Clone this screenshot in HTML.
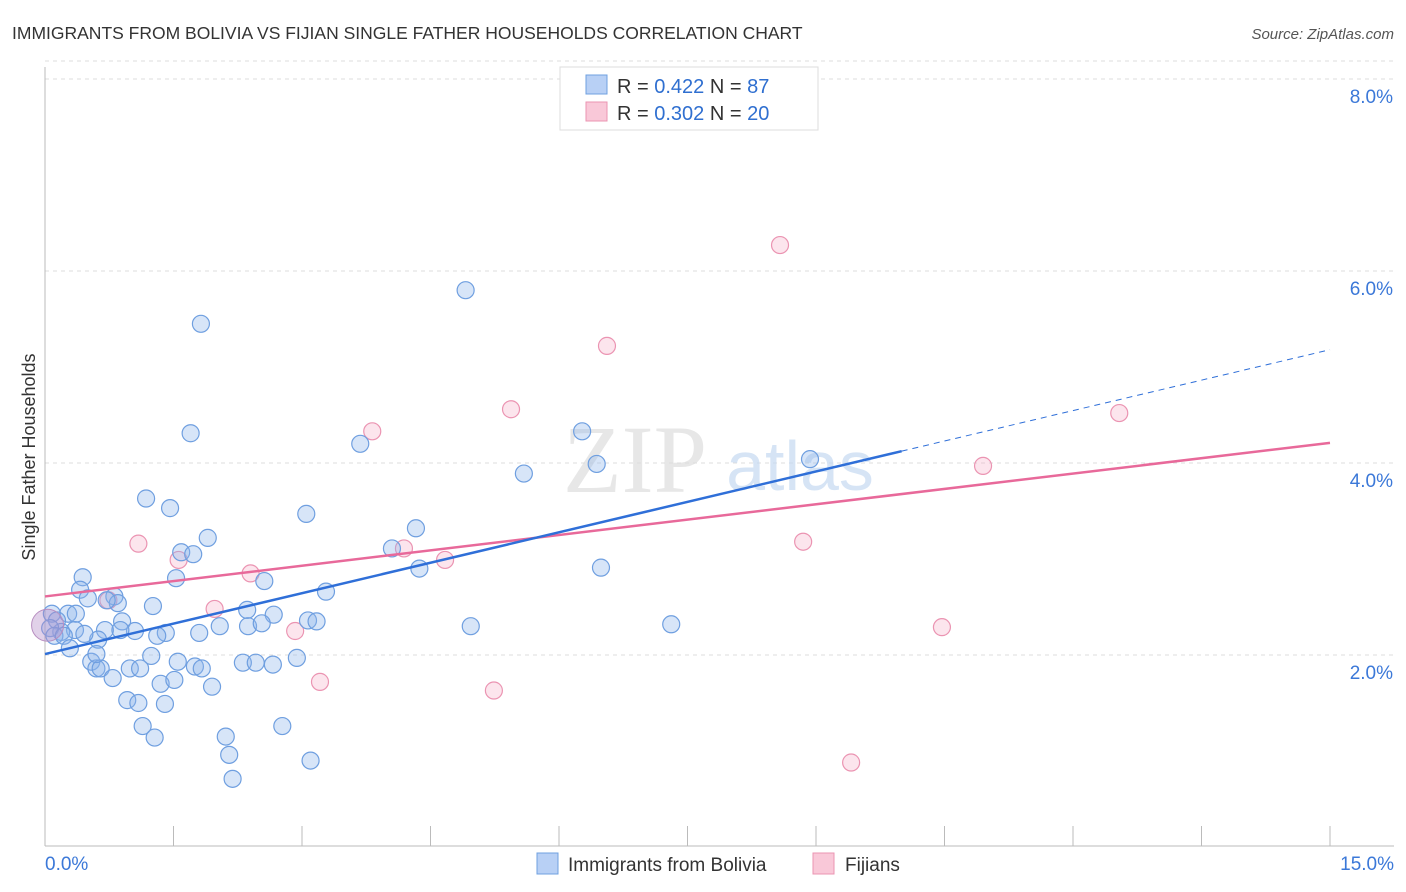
<!DOCTYPE html>
<html><head><meta charset="utf-8">
<style>
body{margin:0;background:#fff;font-family:"Liberation Sans",sans-serif;}
svg{display:block}
</style></head>
<body>
<svg id="chart" width="1406" height="892" xmlns="http://www.w3.org/2000/svg">
<text x="12" y="39" font-size="17.5" fill="#333">IMMIGRANTS FROM BOLIVIA VS FIJIAN SINGLE FATHER HOUSEHOLDS CORRELATION CHART</text>
<text x="1394" y="39" font-size="15" fill="#555" font-style="italic" text-anchor="end">Source: ZipAtlas.com</text>
<text x="35" y="457" font-size="18" fill="#333" text-anchor="middle" transform="rotate(-90 35 457)">Single Father Households</text>
<g id="grid"></g>
<g id="axes"></g>
<g>
<text x="635" y="492" font-size="96" fill="#ddd" font-family="Liberation Serif,serif" text-anchor="middle" opacity="0.7">ZIP</text>
<text x="800" y="490" font-size="70" fill="#c6daf2" text-anchor="middle" opacity="0.7">atlas</text>
</g>
<g id="pts"></g>
<g id="lines"></g>
<g>
<rect x="560" y="67" width="258" height="63" fill="#fff" stroke="#ddd"/>
<rect x="586" y="75" width="21" height="19" fill="#b8d0f5" stroke="#6fa0e0"/>
<rect x="586" y="102" width="21" height="19" fill="#f9c8d8" stroke="#eb94b2"/>
<text x="617" y="93" font-size="20" fill="#333">R = <tspan fill="#2f6fd0">0.422</tspan>   N = <tspan fill="#2f6fd0">87</tspan></text>
<text x="617" y="120" font-size="20" fill="#333">R = <tspan fill="#2f6fd0">0.302</tspan>   N = <tspan fill="#2f6fd0">20</tspan></text>
</g>
<g>
<rect x="537" y="853" width="21" height="21" fill="#b8d0f5" stroke="#6fa0e0"/>
<text x="568" y="871" font-size="19" fill="#333">Immigrants from Bolivia</text>
<rect x="813" y="853" width="21" height="21" fill="#f9c8d8" stroke="#eb94b2"/>
<text x="845" y="871" font-size="19" fill="#333">Fijians</text>
</g>
</svg>
<script>
const xTicks=[0,1.5,3,4.5,6,7.5,9,10.5,12,13.5,15];
const yTicks=[2,4,6,8];
const yTickLabels=["2.0%","4.0%","6.0%","8.0%"];
const xEndLabels=["0.0%","15.0%"];
const boliviaX=[1.82,4.91,1.70,3.68,6.27,5.59,6.44,8.93,1.18,1.46,3.05,1.90,4.33,4.05,1.59,1.73,4.37,6.49,0.44,1.53,2.56,0.41,3.28,0.50,0.81,0.85,0.72,1.26,2.36,2.67,3.07,3.17,0.27,0.36,0.08,0.14,0.90,4.97,7.31,2.04,2.37,2.53,1.41,1.80,1.05,1.31,0.70,0.88,0.35,0.19,0.06,0.11,0.22,0.29,0.62,0.46,1.24,1.55,1.75,1.83,2.31,2.46,2.66,2.94,0.54,0.60,0.65,0.99,1.11,0.79,1.35,1.51,1.95,0.96,1.09,1.40,1.14,1.28,2.11,2.77,2.15,2.19,3.10,0.60];
const boliviaY=[5.45,5.80,4.31,4.20,4.33,3.89,3.99,4.04,3.63,3.53,3.47,3.22,3.32,3.11,3.07,3.05,2.90,2.91,2.81,2.80,2.77,2.68,2.66,2.59,2.61,2.54,2.57,2.51,2.47,2.42,2.36,2.35,2.43,2.43,2.43,2.36,2.35,2.30,2.32,2.30,2.30,2.33,2.23,2.23,2.25,2.20,2.26,2.26,2.26,2.24,2.28,2.20,2.20,2.07,2.16,2.22,1.99,1.93,1.88,1.86,1.92,1.92,1.90,1.97,1.93,1.86,1.86,1.86,1.86,1.76,1.70,1.74,1.67,1.53,1.50,1.49,1.26,1.14,1.15,1.26,0.96,0.71,0.90,2.01];
const fijiX=[8.58,6.56,5.44,12.54,3.82,10.95,1.09,8.85,4.19,4.67,1.56,2.40,0.74,1.98,2.92,10.47,3.21,5.24,9.41];
const fijiY=[6.27,5.22,4.56,4.52,4.33,3.97,3.16,3.18,3.11,2.99,2.99,2.85,2.57,2.48,2.25,2.29,1.72,1.63,0.88];
const boliviaTrend=[2.01,5.18];
const boliviaSolidEnd=10.0;
const fijiTrend=[2.61,4.21];
const X=v=>45+v*(1330-45)/15;
const Y=v=>847-v*96;
const NS="http://www.w3.org/2000/svg";
function mk(tag,attrs,parent){const e=document.createElementNS(NS,tag);for(const k in attrs)e.setAttribute(k,attrs[k]);parent.appendChild(e);return e;}
const grid=document.getElementById('grid'),axes=document.getElementById('axes'),pts=document.getElementById('pts'),lines=document.getElementById('lines');
yTicks.forEach((t,i)=>{
 const l=mk('line',{x1:45,x2:1394,y1:Y(t),y2:Y(t),stroke:'#ddd','stroke-dasharray':'4,4'},grid);
 
 
 const tx=mk('text',{x:1393,y:Y(t)+24,'font-size':19,fill:'#3b78d8','text-anchor':'end'},axes);
 tx.textContent=yTickLabels[i];
 
 
});
const tg=mk('line',{x1:45,x2:1394,y1:Y(8)-18,y2:Y(8)-18,stroke:'#ddd','stroke-dasharray':'4,4'},grid);
mk('line',{x1:45,x2:45,y1:67,y2:846,stroke:'#bbb'},axes);
mk('line',{x1:45,x2:1394,y1:846,y2:846,stroke:'#bbb'},axes);
xTicks.forEach(t=>{const l=mk('line',{x1:X(t),x2:X(t),y1:826,y2:846,stroke:'#bbb'},axes);
 
 });
const a=mk('text',{x:45,y:870,'font-size':19,fill:'#3b78d8'},axes);a.textContent=xEndLabels[0];


const b=mk('text',{x:1394,y:870,'font-size':19,fill:'#3b78d8','text-anchor':'end'},axes);b.textContent=xEndLabels[1];


fijiX.forEach((x,i)=>{const c=mk('circle',{cx:X(x),cy:Y(fijiY[i]),r:8.5,fill:'rgba(244,170,196,0.3)',stroke:'#eb94b2','stroke-width':1.2},pts);
 
 });
boliviaX.forEach((x,i)=>{const c=mk('circle',{cx:X(x),cy:Y(boliviaY[i]),r:8.5,fill:'rgba(140,180,235,0.35)',stroke:'#6f9fe0','stroke-width':1.2},pts);
 
 });
const big=mk('circle',{cx:X(0.03),cy:Y(2.31),r:16,fill:'rgba(180,140,200,0.4)',stroke:'#b88ec0'},pts);


const by=x=>boliviaTrend[0]+(boliviaTrend[1]-boliviaTrend[0])*x/15;
const fl=mk('line',{x1:X(0),y1:Y(fijiTrend[0]),x2:X(15),y2:Y(fijiTrend[1]),stroke:'#e8699a','stroke-width':2.5},lines);


const bl=mk('line',{x1:X(0),y1:Y(by(0)),x2:X(boliviaSolidEnd),y2:Y(by(boliviaSolidEnd)),stroke:'#2f6fd8','stroke-width':2.5},lines);


const bd=mk('line',{x1:X(boliviaSolidEnd),y1:Y(by(boliviaSolidEnd)),x2:X(15),y2:Y(by(15)),stroke:'#2f6fd8','stroke-width':1,'stroke-dasharray':'6,5'},lines);


</script>
</body></html>
